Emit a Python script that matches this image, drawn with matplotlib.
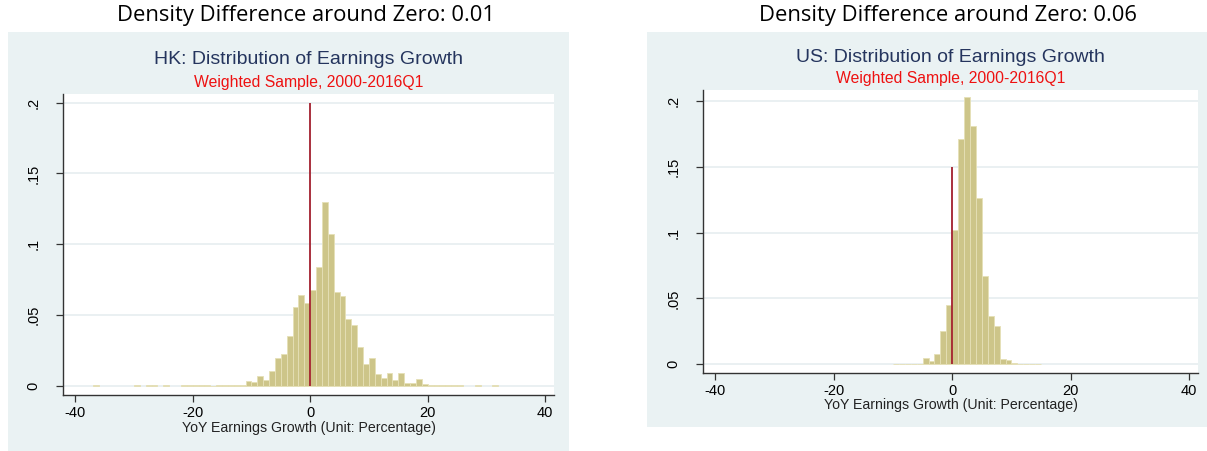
import matplotlib
matplotlib.use("Agg")
import matplotlib.pyplot as plt
from matplotlib.patches import Rectangle

# ── Histogram data (bin width = 1 percentage point, left edges) ──
hk_bins = [-37, -30, -28, -27, -25, -22, -21, -20, -19, -18, -17, -16, -15,
           -14, -13, -12, -11, -10, -9, -8, -7, -6, -5, -4, -3, -2, -1,
           0, 1, 2, 3, 4, 5, 6, 7, 8, 9, 10, 11, 12, 13, 14, 15, 16, 17,
           18, 19, 20, 21, 22, 23, 24, 25, 28, 31]
hk_density = [0.0004, 0.0004, 0.0004, 0.0004, 0.0004, 0.0004, 0.0004, 0.0004,
              0.0007, 0.0007, 0.0003, 0.0006, 0.0008, 0.0006, 0.0006, 0.0006,
              0.0038, 0.0030, 0.0073, 0.0040, 0.0106, 0.0198, 0.0229, 0.0350,
              0.0555, 0.0640, 0.0585,
              0.0680, 0.0842, 0.1297, 0.1070, 0.0665, 0.0637, 0.0470, 0.0430,
              0.0276, 0.0158, 0.0198, 0.0083, 0.0059, 0.0090, 0.0040, 0.0094,
              0.0020, 0.0020, 0.0052, 0.0017, 0.0005, 0.0008, 0.0005, 0.0008,
              0.0005, 0.0005, 0.0004, 0.0004]

us_bins = [-10, -9, -8, -7, -6, -5, -4, -3, -2, -1,
           0, 1, 2, 3, 4, 5, 6, 7, 8, 9, 10, 11, 12, 13, 14]
us_density = [0.0005, 0.0005, 0.0005, 0.0005, 0.0005, 0.0046, 0.0025, 0.0076,
              0.0251, 0.0449,
              0.1020, 0.1713, 0.2030, 0.1812, 0.1261, 0.0670, 0.0365, 0.0289,
              0.0043, 0.0033, 0.0010, 0.0005, 0.0005, 0.0005, 0.0005]

hk_zero_line = 0.2
us_zero_line = 0.15

x_ticks = [-40, -20, 0, 20, 40]
y_ticks = [0, 0.05, 0.1, 0.15, 0.2]
y_ticklabels = ["0", ".05", ".1", ".15", ".2"]

# ── Styling ──────────────────────────────────
PANEL_BG = "#eaf2f3"
GRID = "#e6eef0"
BAR_FACE = "#cdc589"
BAR_EDGE = "#e6e0b6"
ZERO_LINE = "#a3202e"
TITLE_COL = "#25355e"
SUB_COL = "#ee1111"
AXIS_COL = "#333333"
SANS = "Liberation Sans"

fig = plt.figure(figsize=(12.07, 4.51), dpi=100, facecolor="white")


def draw_panel(panel_rect, ax_rect, bins, dens, zero_top, ylim,
               header, title, header_y, title_y, sub_y, xlabel_y):
    # light graph-region backdrop
    fig.patches.append(Rectangle(panel_rect[:2], panel_rect[2], panel_rect[3],
                                 transform=fig.transFigure, facecolor=PANEL_BG,
                                 edgecolor="none", zorder=-10))
    ax = fig.add_axes(ax_rect)
    ax.set_facecolor("white")
    ax.bar(bins, dens, width=1.0, align="edge", color=BAR_FACE,
           edgecolor=BAR_EDGE, linewidth=0.6, zorder=2)
    ax.vlines(0, 0, zero_top, color=ZERO_LINE, linewidth=1.3, zorder=3)

    ax.set_xlim(-42.03, 41.5)
    ax.set_ylim(*ylim)
    ax.set_xticks(x_ticks)
    ax.set_xticklabels([str(t) for t in x_ticks], fontsize=10.5, family=SANS)
    ax.set_yticks(y_ticks)
    ax.set_yticklabels(y_ticklabels, fontsize=10.5, family=SANS,
                       rotation=90, va="center")
    ax.yaxis.grid(True, color=GRID, linewidth=1.2, zorder=1)
    ax.set_axisbelow(True)
    for side in ("top", "right"):
        ax.spines[side].set_visible(False)
    for side in ("left", "bottom"):
        ax.spines[side].set_color(AXIS_COL)
        ax.spines[side].set_linewidth(1.0)
    ax.tick_params(direction="out", length=5, width=0.9, color=AXIS_COL,
                   pad=3)
    ax.tick_params(axis="y", pad=11.5)

    cx = ax_rect[0] + ax_rect[2] / 2
    fig.text(cx - 3 / 1207, header_y, header,
             ha="center", va="center", fontsize=15.8, family="Open Sans",
             color="black")
    fig.text(cx, title_y, title, ha="center", va="center", fontsize=14,
             family=SANS, color=TITLE_COL)
    fig.text(cx, sub_y, "Weighted Sample, 2000-2016Q1", ha="center",
             va="center", fontsize=11.3, family=SANS, color=SUB_COL)
    fig.text(cx, xlabel_y, "YoY Earnings Growth (Unit: Percentage)",
             ha="center", va="center", fontsize=10.2, family=SANS,
             color="#222222")
    return ax


# HK panel
draw_panel((0.0066, 0.0, 0.4648, 0.929),
           (0.05244, 0.12483, 0.40654, 0.66608),
           hk_bins, hk_density, hk_zero_line, (-0.00614, 0.2059),
           "Density Difference around Zero: 0.01",
           "HK: Distribution of Earnings Growth",
           1 - 16 / 451, 1 - 60 / 451, 1 - 83 / 451, 1 - 428 / 451)

# US panel
draw_panel((0.53604, 0.05255, 0.46396, 0.8765),
           (0.58269, 0.17295, 0.40985, 0.62683),
           us_bins, us_density, us_zero_line, (-0.0066, 0.2081),
           "Density Difference around Zero: 0.06",
           "US: Distribution of Earnings Growth",
           1 - 16 / 451, 1 - 57 / 451, 1 - 79 / 451, 1 - 405 / 451)

fig.savefig("out.png", dpi=100, facecolor="white")
